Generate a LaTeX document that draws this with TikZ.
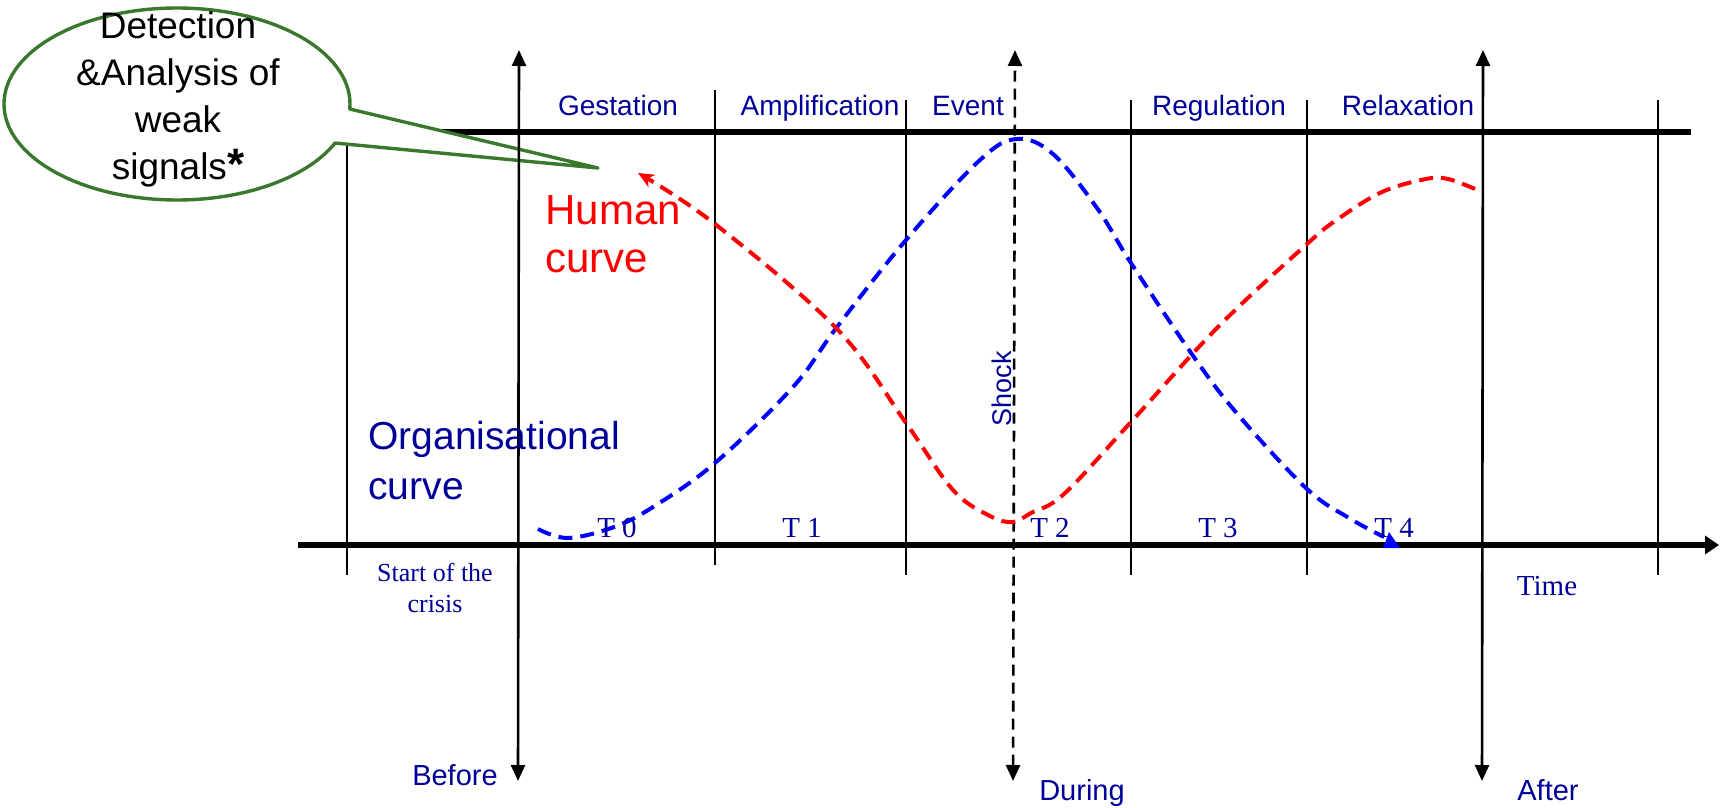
\documentclass[tikz,border=0pt]{standalone}
\usepackage{fontspec}
\setmainfont{Liberation Serif}
\setsansfont{Liberation Sans}
\usepackage{tikz}
\usetikzlibrary{arrows.meta,calc}
\definecolor{labelblue}{RGB}{0,0,153}
\definecolor{orgblue}{RGB}{0,0,255}
\definecolor{humred}{RGB}{255,0,0}
\definecolor{callgreen}{RGB}{58,120,46}
\tikzset{
  frameline/.style={line width=2.6pt, draw=black},
  divline/.style={line width=1.3pt, draw=black},
  timearr/.style={line width=1.3pt, draw=black,
                  {Triangle[length=8pt,width=7pt]}-{Triangle[length=8pt,width=7pt]}},
  curvebase/.style={line width=2pt, dash pattern=on 7pt off 4pt},
  orgcurve/.style={curvebase, draw=orgblue},
  humcurve/.style={curvebase, draw=humred, -{Stealth[length=8pt,width=7pt,inset=2.5pt]}},
  callout/.style={line width=1.7pt, draw=callgreen, fill=white, line join=round},
  phase/.style={inner sep=0pt, anchor=base, text=labelblue,
                font=\sffamily\fontsize{14}{17}\selectfont},
  tlabel/.style={inner sep=0pt, anchor=base, text=labelblue,
                 font=\rmfamily\fontsize{14.5}{17}\selectfont},
  bigtext/.style={inner sep=0pt, align=left, anchor=west},
}

\begin{document}
\begin{tikzpicture}[x=0.5pt, y=-0.5pt]
  \useasboundingbox (0,0) rectangle (1720,808);
  % phase frame and time axis
  \draw[frameline] (347,132) -- (1691,132);
  \draw[frameline, -{Triangle[length=7pt,width=9pt]}] (298,545) -- (1719,545);
  \foreach \x/\ya/\yb in {347/132/575, 715/90/565, 906/100/575, 1131/100/575, 1307/100/575, 1658/100/575}
    \draw[divline] (\x,\ya) -- (\x,\yb);
  % speech bubble
  \coordinate (cc) at (177,104);
  \coordinate (ctip) at (598,168);
  \draw[callout] ([shift={(-3:86.5pt and 48pt)}]cc)
    arc[start angle=-3, end angle=336, x radius=86.5pt, y radius=48pt] -- (ctip) -- cycle;
  \node[inner sep=0pt, align=center, font=\sffamily\fontsize{18.5}{23.5}\selectfont] (signals) at (178,99)
    {Detection\\\&Analysis of\\weak\\signals{\bfseries\fontsize{22}{23.5}\selectfont *}};
  % before / during / after
  \coordinate (bef top) at (519,50);  \coordinate (bef bot) at (518,781);
  \coordinate (dur top) at (1015,50); \coordinate (dur bot) at (1013,781);
  \coordinate (aft top) at (1483,50); \coordinate (aft bot) at (1482,781);
  \draw[timearr] (bef bot) -- (bef top);
  \draw[timearr, line width=1.3pt, dash pattern=on 5.5pt off 3.5pt] (dur bot) -- (dur top);
  \draw[timearr] (aft bot) -- (aft top);
  % organisational curve
  \draw[orgcurve] plot[smooth, tension=0.6] coordinates {(538,529) (568,538) (614,527) (653,507) (715,463)
    (793,387) (837,327) (906,240) (980,160) (1017,139) (1053,154) (1097,208) (1131,263)
    (1196,360) (1240,417) (1307,489) (1349,518) (1384,537)};
  \fill[orgblue] (1389,532) -- (1383,548) -- (1400,548) -- cycle;
  % human curve
  \draw[humcurve] plot[smooth, tension=0.6] coordinates {(1475,189) (1448,179) (1426,179) (1382,192)
    (1338,219) (1307,244) (1218,327) (1131,422) (1064,494) (1031,513) (1013,522) (990,516) (953,490)
    (906,423) (837,329) (715,224) (638,173)};
  % phases
  \node[phase] (gest)  at (618,116)  {Gestation};
  \node[phase] (ampl)  at (820,116)  {Amplification};
  \node[phase] (event) at (968,116)  {Event};
  \node[phase] (regu)  at (1219,116) {Regulation};
  \node[phase] (relax) at (1408,116) {Relaxation};
  % periods
  \node[tlabel] (t0) at (617,537)  {T 0};
  \node[tlabel] (t1) at (802,537)  {T 1};
  \node[tlabel] (t2) at (1050,537) {T 2};
  \node[tlabel] (t3) at (1218,537) {T 3};
  \node[tlabel] (t4) at (1394,537) {T 4};
  \node[tlabel, anchor=center, align=center, font=\rmfamily\fontsize{13}{15.5}\selectfont] (start) at (435,588)
    {Start of the\\crisis};
  \node[tlabel] (time) at (1547,595) {Time};
  \node[phase, font=\sffamily\fontsize{14.5}{17}\selectfont] (before) at (455,785)  {Before};
  \node[phase, font=\sffamily\fontsize{14.5}{17}\selectfont] (during) at (1082,800) {During};
  \node[phase, font=\sffamily\fontsize{14.5}{17}\selectfont] (after)  at (1548,800) {After};
  \node[phase, rotate=90, font=\sffamily\fontsize{13.5}{16}\selectfont] (shock) at (1011,389) {Shock};
  % curve names
  \node[bigtext, text=humred, font=\sffamily\fontsize{21}{24}\selectfont] (human) at (545,234) {Human\\curve};
  \node[bigtext, text=labelblue, font=\sffamily\fontsize{19.5}{25}\selectfont] (organ) at (368,461) {Organisational\\curve};
\end{tikzpicture}
\end{document}
